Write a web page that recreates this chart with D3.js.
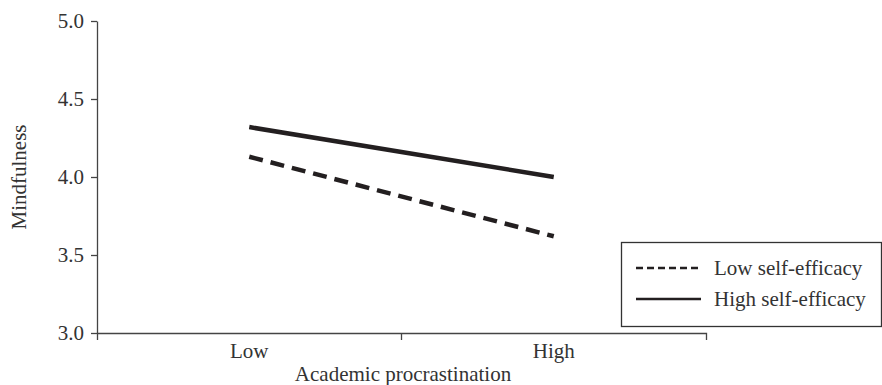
<!DOCTYPE html>
<meta charset="utf-8">
<title>Mindfulness by procrastination</title>
<style>
body {
  margin: 0;
  background: #fff;
}
text {
  font-family: "Liberation Serif", "Times New Roman", serif;
  fill: #333;
}
.axis path, .axis line {
  stroke: #444;
  stroke-width: 1.3px;
}
</style>
<body>
<script src="https://cdnjs.cloudflare.com/ajax/libs/d3/7.8.5/d3.min.js"></script>
<script>
var categories = ["Low", "High"];
var yTicks = [3.0, 3.5, 4.0, 4.5, 5.0];
var lowEfficacy = [4.13, 3.62];
var highEfficacy = [4.32, 4.00];
var seriesNames = ["Low self-efficacy", "High self-efficacy"];

var w = 882,
    h = 385;

var svg = d3.select("body").append("svg")
    .attr("width", w)
    .attr("height", h);

var x = d3.scaleBand().domain(categories).range([97, 706]);
var y = d3.scaleLinear().domain([3, 5]).range([333, 21]);

var xAxis = svg.append("g")
    .attr("class", "axis")
    .attr("transform", "translate(0," + y(3) + ")")
    .call(d3.axisBottom(x).tickSizeInner(0).tickSizeOuter(7).tickPadding(10));
xAxis.selectAll("text").style("font-size", "21px");
// boundary tick between the two groups
xAxis.append("line")
    .attr("x1", x("High")).attr("x2", x("High"))
    .attr("y1", 0).attr("y2", 7);

var yAxis = svg.append("g")
    .attr("class", "axis")
    .attr("transform", "translate(" + x.range()[0] + ",0)")
    .call(d3.axisLeft(y).tickValues(yTicks).tickFormat(d3.format(".1f"))
      .tickSize(6).tickSizeOuter(0).tickPadding(7));
yAxis.selectAll("text").style("font-size", "21px");

svg.append("text")
    .attr("x", 403)
    .attr("y", 381)
    .attr("text-anchor", "middle")
    .style("font-size", "21px")
    .text("Academic procrastination");

svg.append("text")
    .attr("transform", "translate(26," + y(4) + ")rotate(-90)")
    .attr("text-anchor", "middle")
    .style("font-size", "21px")
    .text("Mindfulness");

var line = d3.line()
    .x(function(d, i) { return x(categories[i]) + x.bandwidth() / 2; })
    .y(function(d) { return y(d); });

svg.append("path")
    .datum(lowEfficacy)
    .attr("d", line)
    .attr("fill", "none")
    .attr("stroke", "#231f20")
    .attr("stroke-width", 4.5)
    .attr("stroke-dasharray", "14,8");

svg.append("path")
    .datum(highEfficacy)
    .attr("d", line)
    .attr("fill", "none")
    .attr("stroke", "#231f20")
    .attr("stroke-width", 4.5);

// legend
var legend = svg.append("g");
legend.append("rect")
    .attr("x", 621.5)
    .attr("y", 242.5)
    .attr("width", 260)
    .attr("height", 84)
    .attr("fill", "#fff")
    .attr("stroke", "#333")
    .attr("stroke-width", 1.3);

var entries = legend.selectAll(".entry")
    .data(seriesNames)
  .enter().append("g")
    .attr("transform", function(d, i) { return "translate(0," + (268 + i * 31) + ")"; });

entries.append("line")
    .attr("x1", 636).attr("x2", 701)
    .attr("stroke", "#231f20")
    .attr("stroke-width", 2.5)
    .attr("stroke-dasharray", function(d, i) { return i === 0 ? "7,4" : null; });

entries.append("text")
    .attr("x", 714)
    .attr("y", 7)
    .style("font-size", "21px")
    .text(function(d) { return d; });
</script>
